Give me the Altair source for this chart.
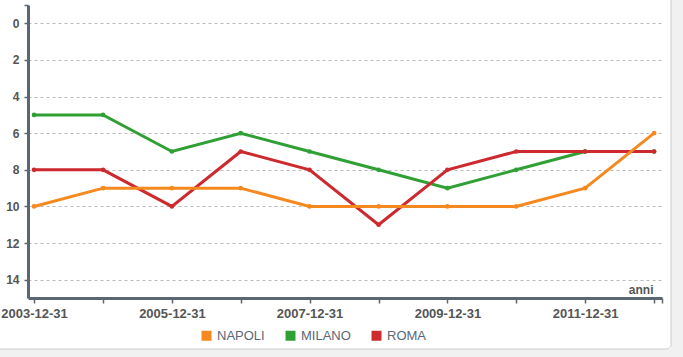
import altair as alt
import pandas as pd

years = [2003, 2004, 2005, 2006, 2007, 2008, 2009, 2010, 2011, 2012]
dates = [f"{y}-12-31" for y in years]
napoli = [10, 9, 9, 9, 10, 10, 10, 10, 9, 6]
milano = [5, 5, 7, 6, 7, 8, 9, 8, 7, 7]
roma = [8, 8, 10, 7, 8, 11, 8, 7, 7, 7]

series_order = ["NAPOLI", "MILANO", "ROMA"]
colors = ["#f5891f", "#30a035", "#cd2a2f"]

rows = []
# drawing order: MILANO, ROMA, NAPOLI
for name, vals in [("MILANO", milano), ("ROMA", roma), ("NAPOLI", napoli)]:
    for d, v in zip(dates, vals):
        rows.append({"data": d, "squadra": name, "pos": v})
df = pd.DataFrame(rows)

FONT = "Liberation Sans"
AXC = "#5b6670"
LBL = "#555555"

tick_vals = [alt.DateTime(year=y, month=12, date=31, utc=True) for y in years]
tick_vals.append(alt.DateTime(year=2013, month=2, date=11, utc=True))

x = alt.X(
    "data:T",
    scale=alt.Scale(
        type="utc",
        domain=[alt.DateTime(year=2003, month=11, date=29, utc=True),
                alt.DateTime(year=2013, month=2, date=11, utc=True)],
        nice=False,
    ),
    axis=alt.Axis(
        title="anni",
        values=tick_vals,
        labelExpr="(utcmonth(datum.value) == 11 && utcyear(datum.value) % 2 == 1) ? utcFormat(datum.value, '%Y-%m-%d') : ''",
        grid=False,
        domainColor=AXC,
        domainWidth=3,
        tickColor=AXC,
        tickWidth=1.5,
        tickSize=5,
        labelPadding=4,
        labelFont=FONT,
        labelFontSize=13,
        labelFontWeight="bold",
        labelColor=LBL,
        labelFlush=False,
        labelOverlap=False,
        titleFont=FONT,
        titleFontSize=12,
        titleFontWeight="bold",
        titleColor=LBL,
        titleAnchor="end",
        titleAlign="right",
        titleBaseline="alphabetic",
        titleX=625,
        titleY=-5,
    ),
)

y = alt.Y(
    "pos:Q",
    scale=alt.Scale(domain=[-1, 15], reverse=True, nice=False, zero=False),
    axis=alt.Axis(
        title=None,
        values=[-1, 0, 2, 4, 6, 8, 10, 12, 14],
        labelExpr="datum.value < 0 ? '' : datum.label",
        grid=True,
        gridColor="#bbbbbb",
        gridDash=[3, 3],
        gridWidth=1,
        gridOpacity={"condition": {"test": "datum.value < 0", "value": 0}, "value": 1},
        domainColor=AXC,
        domainWidth=3,
        tickColor=AXC,
        tickWidth=1.5,
        tickSize=4,
        labelPadding=5,
        labelFont=FONT,
        labelFontSize=12,
        labelFontWeight="bold",
        labelColor=LBL,
        labelFlush=False,
    ),
)

lines = alt.Chart(df).mark_line(
    strokeWidth=3,
    point=alt.OverlayMarkDef(size=22, filled=True, opacity=1),
).encode(
    x=x,
    y=y,
    color=alt.Color(
        "squadra:N",
        scale=alt.Scale(domain=series_order, range=colors),
        legend=alt.Legend(
            title=None,
            orient="none",
            direction="horizontal",
            legendX=172,
            legendY=324,
            symbolType="square",
            symbolSize=100,
            symbolStrokeWidth=0,
            symbolOpacity=1,
            labelFont=FONT,
            labelFontSize=13,
            labelColor="#5a6778",
            labelOffset=4,
            columnPadding=19,
        ),
    ),
)

deco = pd.DataFrame({"k": [0]})
right_strip = alt.Chart(deco).mark_rect(fill="#f1f1f1").encode(
    x=alt.value(643), x2=alt.value(720), y=alt.value(-20), y2=alt.value(400)
)
bottom_strip = alt.Chart(deco).mark_rect(fill="#f1f1f1").encode(
    x=alt.value(-40), x2=alt.value(720), y=alt.value(344), y2=alt.value(400)
)
border = alt.Chart(deco).mark_rect(
    fill=None, stroke="#cccccc", strokeWidth=1, cornerRadius=4
).encode(
    x=alt.value(-40), x2=alt.value(643), y=alt.value(-20), y2=alt.value(344)
)

chart = alt.layer(right_strip, bottom_strip, border, lines).properties(
    width=634,
    height=293,
    autosize=alt.AutoSizeParams(type="none"),
    padding={"left": 28, "top": 5, "right": 21, "bottom": 59},
    background="white",
).configure_view(stroke=None)

chart.save("out.html", embed_options={"renderer": "svg", "actions": False})
